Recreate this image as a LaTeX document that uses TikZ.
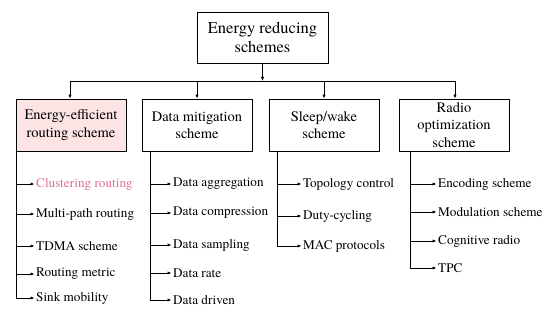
\documentclass[tikz,border=0pt]{standalone}
\usepackage{fontspec}
\setmainfont{TeX Gyre Termes}
\usetikzlibrary{arrows.meta}
\definecolor{pinkfill}{HTML}{FCE4E4}
\definecolor{pinktext}{HTML}{E0708F}
\begin{document}
\begin{tikzpicture}[x=1pt,y=-1pt,
  arr/.style={-{Latex[length=4pt,width=3.2pt]},line width=0.7pt},
  ln/.style={line width=0.7pt},
  topbox/.style={draw,line width=0.8pt,minimum width=131pt,minimum height=51pt,align=center,
    font=\fontsize{16.5}{19}\selectfont,inner sep=0pt},
  catbox/.style={draw,line width=0.8pt,minimum width=110pt,minimum height=52pt,align=center,
    font=\fontsize{14.5}{17.4}\selectfont,inner sep=0pt},
  item/.style={anchor=west,inner sep=1.5pt,font=\fontsize{13.2}{15}\selectfont}]
\useasboundingbox (0,0) rectangle (550,312);
\node[topbox] (top) at (262.5,37.5) {Energy reducing\\schemes};
\node[catbox,fill=pinkfill] (b1) at (71,125) {Energy-efficient\\routing scheme};
\node[catbox] (b2) at (197,125) {Data mitigation\\scheme};
\node[catbox] (b3) at (324,125) {Sleep/wake\\scheme};
\node[catbox] (b4) at (454,125) {Radio\\optimization\\scheme};
\coordinate (hub) at (262.5,81);
\coordinate (hl) at (70,81);
\coordinate (hr) at (455,81);
\draw[arr] (top.south) -- (hub);
\draw[ln] (hl) -- (hr);
\draw[arr] (hl) -- (hl |- b1.north);
\draw[arr] (b2.north |- hub) -- (b2.north);
\draw[arr] (b3.north |- hub) -- (b3.north);
\draw[arr] (hr) -- (hr |- b4.north);
% items
\node[item,text=pinktext] (i11) at (34.5,184) {Clustering routing};
\node[item] (i12) at (34.5,214) {Multi-path routing};
\node[item] (i13) at (34.5,246) {TDMA scheme};
\node[item] (i14) at (34.5,274) {Routing metric};
\node[item] (i15) at (34.5,298) {Sink mobility};
\node[item] (i21) at (171.5,184) {Data aggregation};
\node[item] (i22) at (171.5,213) {Data compression};
\node[item] (i23) at (171.5,245) {Data sampling};
\node[item] (i24) at (171.5,273) {Data rate};
\node[item] (i25) at (171.5,300) {Data driven};
\node[item] (i31) at (301.5,184) {Topology control};
\node[item] (i32) at (301.5,216) {Duty-cycling};
\node[item] (i33) at (301.5,246) {MAC protocols};
\node[item] (i41) at (436.5,184) {Encoding scheme};
\node[item] (i42) at (436.5,212) {Modulation scheme};
\node[item] (i43) at (436.5,241) {Cognitive radio};
\node[item] (i44) at (436.5,268) {TPC};
\coordinate (s1) at ([xshift=0.4pt]b1.south west);
\coordinate (s2) at ([xshift=9pt]b2.south west);
\coordinate (s3) at ([xshift=9pt]b3.south west);
\coordinate (s4) at ([xshift=12pt]b4.south west);
\foreach \i in {1,...,5} {\draw[arr] (s1) |- (i1\i.west);}
\foreach \i in {1,...,5} {\draw[arr] (s2) |- (i2\i.west);}
\foreach \i in {1,...,3} {\draw[arr] (s3) |- (i3\i.west);}
\foreach \i in {1,...,4} {\draw[arr] (s4) |- (i4\i.west);}
\end{tikzpicture}
\end{document}
